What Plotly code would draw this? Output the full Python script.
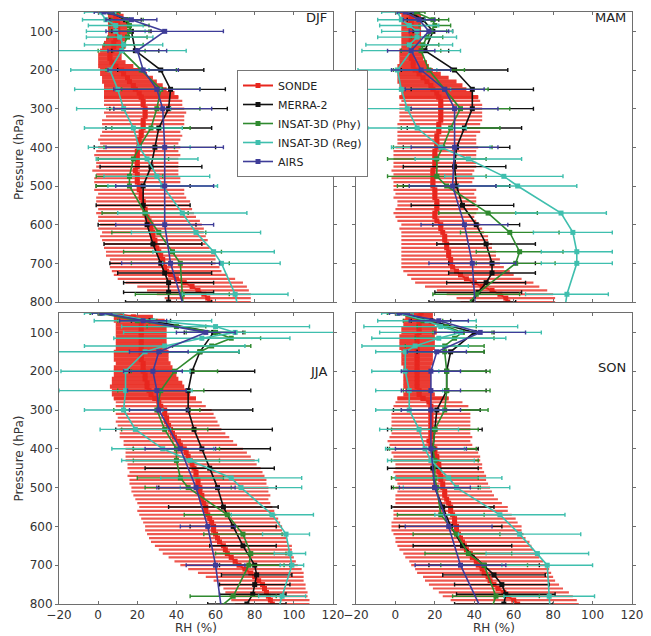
import plotly.graph_objects as go

# ---------------- data ----------------
SEASONS = ["DJF", "MAM", "JJA", "SON"]

P_SONDE = [50, 60, 70, 80, 90, 100, 110, 120, 130, 140,
           150, 160, 170, 180, 190, 200, 210, 220, 230, 240,
           250, 260, 270, 280, 290, 300, 310, 320, 330, 340,
           350, 360, 370, 380, 390, 400, 410, 420, 430, 440,
           450, 460, 470, 480, 490, 500, 510, 520, 530, 540,
           550, 560, 570, 580, 590, 600, 610, 620, 630, 640,
           650, 660, 670, 680, 690, 700, 710, 720, 730, 740,
           750, 760, 770, 780, 790, 800]

SONDE_MEAN = {
    "DJF": [8, 9, 9, 10, 10, 10, 10, 9, 8, 8,
            7, 6, 6, 7, 9, 12, 13, 15, 16, 18,
            19, 21, 22, 23, 23, 24, 24, 24, 23, 23,
            23, 22, 22, 21, 21, 21, 20, 20, 20, 20,
            20, 19, 20, 20, 20, 21, 21, 22, 22, 23,
            23, 24, 24, 25, 26, 27, 27, 28, 28, 29,
            29, 30, 31, 32, 33, 33, 34, 35, 37, 40,
            44, 48, 51, 54, 56, 57],
    "MAM": [7, 8, 8, 8, 8, 8, 8, 8, 8, 8,
            8, 8, 8, 9, 9, 10, 12, 14, 16, 18,
            19, 21, 22, 23, 23, 23, 23, 23, 23, 22,
            22, 22, 21, 21, 21, 21, 20, 20, 20, 20,
            20, 19, 19, 19, 19, 19, 20, 20, 20, 21,
            21, 21, 20, 20, 21, 23, 23, 24, 25, 25,
            26, 26, 27, 27, 28, 28, 29, 31, 33, 36,
            40, 44, 49, 53, 56, 57],
    "JJA": [8, 18, 21, 22, 22, 22, 22, 22, 22, 22,
            22, 22, 22, 23, 23, 23, 24, 24, 25, 25,
            26, 27, 29, 31, 32, 34, 34, 35, 35, 36,
            37, 38, 39, 41, 42, 44, 45, 46, 47, 48,
            49, 50, 50, 51, 51, 52, 52, 53, 53, 54,
            55, 55, 56, 57, 58, 59, 59, 60, 61, 62,
            64, 65, 66, 68, 70, 72, 75, 78, 80, 82,
            84, 85, 86, 87, 88, 89],
    "SON": [13, 12, 12, 12, 12, 12, 11, 11, 11, 11,
            11, 11, 11, 11, 11, 11, 11, 11, 11, 11,
            12, 12, 14, 17, 18, 18, 18, 18, 18, 18,
            18, 18, 18, 17, 18, 20, 20, 21, 21, 22,
            22, 22, 23, 23, 24, 24, 25, 25, 26, 27,
            28, 28, 29, 30, 30, 31, 31, 32, 33, 34,
            35, 36, 38, 39, 41, 42, 44, 45, 47, 48,
            50, 52, 55, 57, 60, 62],
}

SONDE_SD = {
    "DJF": [3, 4, 4, 5, 5, 5, 5, 5, 5, 6,
            6, 6, 6, 7, 9, 11, 12, 13, 14, 15,
            16, 18, 19, 20, 20, 20, 21, 20, 21, 21,
            21, 20, 21, 21, 20, 21, 21, 22, 21, 21,
            21, 22, 21, 22, 22, 22, 23, 22, 23, 24,
            24, 24, 25, 25, 26, 26, 27, 26, 27, 27,
            26, 27, 27, 28, 27, 27, 28, 28, 29, 30,
            30, 28, 26, 24, 22, 21],
    "MAM": [5, 5, 5, 5, 5, 5, 5, 5, 5, 5,
            6, 6, 6, 7, 8, 9, 11, 13, 15, 16,
            17, 18, 20, 20, 21, 21, 21, 21, 21, 21,
            21, 21, 20, 20, 20, 21, 21, 21, 21, 21,
            21, 21, 20, 21, 20, 20, 21, 20, 21, 20,
            20, 21, 21, 20, 20, 20, 21, 21, 22, 22,
            23, 23, 24, 24, 25, 25, 26, 27, 27, 28,
            30, 29, 28, 27, 25, 24],
    "JJA": [4, 10, 13, 13, 13, 13, 13, 13, 13, 13,
            14, 14, 14, 14, 15, 15, 16, 17, 18, 19,
            19, 20, 21, 22, 23, 24, 25, 25, 26, 26,
            26, 27, 28, 28, 29, 30, 31, 32, 33, 33,
            34, 34, 35, 35, 35, 35, 35, 35, 34, 34,
            34, 35, 35, 35, 35, 35, 35, 35, 35, 35,
            35, 34, 33, 32, 31, 30, 29, 27, 25, 23,
            22, 21, 21, 20, 20, 19],
    "SON": [6, 7, 8, 8, 9, 9, 9, 9, 9, 9,
            8, 8, 8, 8, 7, 7, 7, 7, 7, 7,
            7, 8, 13, 17, 19, 20, 20, 20, 20, 20,
            20, 20, 21, 21, 21, 22, 22, 22, 22, 22,
            22, 23, 23, 23, 23, 24, 24, 25, 26, 27,
            29, 29, 30, 31, 32, 33, 33, 33, 33, 34,
            34, 34, 34, 34, 34, 34, 34, 34, 33, 33,
            33, 33, 33, 33, 32, 31],
}

P_MERRA = [50, 70, 100, 150, 200, 250, 300, 350, 400, 450,
           500, 550, 600, 650, 700, 725, 750, 775, 800]
MERRA_MEAN = {
    "DJF": [6, 14, 17, 19, 32, 37, 36, 31, 29, 27, 23, 23, 25, 28, 32, 34, 36, 36, 36],
    "MAM": [7, 14, 19, 15, 30, 39, 39, 35, 31, 30, 31, 34, 41, 46, 49, 49, 46, 42, 39],
    "JJA": [1, 27, 59, 52, 48, 46, 46, 49, 53, 57, 61, 64, 69, 74, 80, 81, 80, 79, 76],
    "SON": [1, 18, 40, 28, 26, 26, 21, 20, 19, 19, 20, 24, 28, 34, 45, 50, 54, 56, 55],
}
MERRA_SD = {
    "DJF": [5, 8, 10, 12, 22, 28, 30, 27, 31, 26, 24, 24, 25, 25, 26, 24, 23, 23, 22],
    "MAM": [5, 8, 10, 12, 27, 31, 31, 29, 27, 26, 27, 26, 22, 25, 22, 22, 20, 22, 22],
    "JJA": [5, 10, 15, 20, 32, 32, 33, 40, 35, 33, 30, 28, 22, 17, 18, 18, 18, 17, 20],
    "SON": [5, 10, 10, 17, 20, 20, 22, 24, 23, 23, 22, 26, 26, 25, 28, 26, 24, 25, 25],
}

P_INSAT = [50, 70, 85, 100, 115, 135, 150, 200, 250, 300, 350,
           400, 430, 475, 500, 570, 620, 670, 700, 780, 850]
PHY_MEAN = {
    "DJF": [6, 15, 16, 16, 15, 13, 12, 22, 32, 30, 27, 21, 18, 16, 16, 24, 31, 38, 42, 43, 44],
    "MAM": [10, 19, 20, 18, 16, 14, 13, 17, 25, 33, 28, 24, 21, 21, 26, 47, 58, 63, 61, 41, 30],
    "JJA": [1, 20, 40, 60, 68, 58, 52, 39, 32, 30, 34, 40, 40, 42, 46, 66, 74, 78, 77, 69, 52],
    "SON": [1, 14, 26, 34, 30, 25, 25, 26, 26, 25, 20, 19, 20, 20, 21, 23, 31, 37, 45, 51, 46],
}
PHY_SD = {
    "DJF": [5, 8, 10, 10, 10, 10, 12, 18, 20, 22, 20, 18, 18, 17, 17, 22, 24, 25, 25, 24, 24],
    "MAM": [5, 8, 8, 8, 8, 8, 10, 18, 22, 25, 25, 25, 25, 25, 25, 25, 25, 22, 20, 22, 22],
    "JJA": [5, 10, 15, 15, 15, 20, 20, 22, 22, 22, 22, 22, 22, 22, 22, 22, 20, 18, 18, 22, 22],
    "SON": [5, 10, 15, 15, 20, 20, 20, 22, 22, 22, 22, 22, 22, 22, 22, 22, 22, 22, 22, 22, 22],
}
REG_MEAN = {
    "DJF": [1, 4, 9, 9, 11, 13, 12, 6, 10, 13, 18, 21, 25, 30, 33, 43, 50, 59, 63, 70, 73],
    "MAM": [1, 3, 7, 11, 11, 7, 8, 1, 3, 6, 11, 23, 37, 55, 62, 84, 90, 92, 92, 87, 85],
    "JJA": [3, 28, 60, 70, 53, 34, 24, 14, 14, 13, 19, 33, 47, 68, 73, 89, 96, 98, 99, 94, 90],
    "SON": [1, 16, 23, 33, 22, 10, 5, 5, 7, 7, 12, 15, 18, 27, 31, 53, 63, 72, 77, 78, 79],
}
REG_SD = {
    "DJF": [8, 12, 14, 15, 17, 20, 33, 20, 22, 24, 25, 26, 26, 27, 28, 33, 33, 31, 30, 27, 27],
    "MAM": [8, 12, 15, 18, 20, 22, 25, 20, 25, 25, 25, 25, 27, 30, 30, 23, 20, 18, 18, 21, 21],
    "JJA": [10, 30, 48, 57, 45, 41, 48, 33, 34, 20, 18, 26, 35, 36, 31, 21, 12, 8, 6, 12, 12],
    "SON": [8, 25, 39, 41, 34, 27, 15, 17, 17, 17, 20, 20, 22, 27, 27, 33, 31, 26, 23, 23, 23],
}

P_AIRS = [50, 70, 100, 150, 200, 250, 300, 400, 500, 600, 700, 850]
AIRS_MEAN = {
    "DJF": [3, 17, 34, 20, 23, 30, 33, 34, 34, 34, 37, 46],
    "MAM": [5, 12, 17, 8, 13, 25, 30, 30, 29, 35, 39, 41],
    "JJA": [2, 23, 55, 31, 28, 30, 31, 42, 50, 56, 60, 64],
    "SON": [2, 22, 43, 21, 18, 18, 18, 18, 20, 27, 33, 47],
}
AIRS_SD = {
    "DJF": [5, 13, 30, 15, 18, 22, 25, 30, 25, 25, 25, 25],
    "MAM": [4, 8, 10, 12, 15, 20, 22, 22, 22, 22, 22, 22],
    "JJA": [5, 12, 15, 15, 15, 15, 15, 18, 20, 14, 15, 15],
    "SON": [5, 15, 23, 15, 15, 15, 15, 18, 18, 22, 23, 23],
}

X_TICKS = [-20, 0, 20, 40, 60, 80, 100, 120]
Y_TICKS = [100, 200, 300, 400, 500, 600, 700, 800]

# ---------------- styling ----------------
FONT = "DejaVu Sans"
RED = "#e8261e"
COLORS = {
    "MERRA-2": "#111111",
    "INSAT-3D (Phy)": "#2f8a2f",
    "INSAT-3D (Reg)": "#3fbfae",
    "AIRS": "#3e3c98",
}
AXES = {"DJF": ("x", "y"), "MAM": ("x2", "y2"), "JJA": ("x3", "y3"), "SON": ("x4", "y4")}
SPLIT = 270  # sonde levels above this are denser in the original

fig = go.Figure()

for k, s in enumerate(SEASONS):
    xa, ya = AXES[s]
    first = (k == 0)
    up = [i for i, p in enumerate(P_SONDE) if p <= SPLIT]
    lo = [i for i, p in enumerate(P_SONDE) if p >= SPLIT]
    for idx, thick, alpha, show in ((lo, 2.2, 0.8, first), (up, 4.2, 0.93, False)):
        fig.add_trace(go.Scatter(
            x=[SONDE_MEAN[s][i] for i in idx], y=[P_SONDE[i] for i in idx],
            mode="lines+markers", name="SONDE", legendgroup="SONDE", showlegend=show,
            line=dict(color=RED, width=2),
            marker=dict(color=RED, size=5, symbol="square"),
            error_x=dict(type="data", array=[SONDE_SD[s][i] for i in idx], visible=True,
                         color=f"rgba(234,45,35,{alpha})", thickness=thick, width=0),
            xaxis=xa, yaxis=ya,
        ))
    series = [
        ("MERRA-2", P_MERRA, MERRA_MEAN[s], MERRA_SD[s]),
        ("INSAT-3D (Phy)", P_INSAT, PHY_MEAN[s], PHY_SD[s]),
        ("INSAT-3D (Reg)", P_INSAT, REG_MEAN[s], REG_SD[s]),
        ("AIRS", P_AIRS, AIRS_MEAN[s], AIRS_SD[s]),
    ]
    for name, pp, mm, sd in series:
        c = COLORS[name]
        fig.add_trace(go.Scatter(
            x=mm, y=pp, mode="lines+markers", name=name, legendgroup=name,
            showlegend=first,
            line=dict(color=c, width=1.6),
            marker=dict(color=c, size=5, symbol="square"),
            error_x=dict(type="data", array=sd, visible=True, color=c,
                         thickness=1.4, width=2),
            xaxis=xa, yaxis=ya,
        ))

# ---------------- layout ----------------
W, H = 651, 636
L, R, T, B = 59, 19, 12, 32
pw, ph = W - L - R, H - T - B
def dx(a, b):
    return [(a - L) / pw, (b - L) / pw]
def dy(top, bot):
    return [1 - (bot - T) / ph, 1 - (top - T) / ph]
def py(v):
    return 1 - (v - T) / ph
def px(v):
    return (v - L) / pw

xdom = {"DJF": dx(59, 333), "MAM": dx(356, 632), "JJA": dx(59, 333), "SON": dx(356, 632)}
ydom = {"DJF": dy(12, 302), "MAM": dy(12, 302), "JJA": dy(313, 604), "SON": dy(313, 604)}

axis_common = dict(showline=True, linecolor="#6e6e6e", linewidth=1, mirror="allticks",
                   ticklen=3, tickcolor="#6e6e6e",
                   showgrid=False, zeroline=False, automargin=False,
                   tickfont=dict(family=FONT, size=12, color="#333333"))

layout = dict(
    width=W, height=H, margin=dict(l=L, r=R, t=T, b=B, autoexpand=False),
    paper_bgcolor="white", plot_bgcolor="white",
    font=dict(family=FONT, size=12, color="#333333"),
    legend=dict(x=px(237), y=py(70), xanchor="left", yanchor="top",
                bgcolor="white", bordercolor="#777777", borderwidth=1,
                font=dict(family=FONT, size=11, color="#222222"),
                tracegroupgap=0, itemwidth=30),
    showlegend=True,
)

for s in SEASONS:
    xa, ya = AXES[s]
    xk = "xaxis" + xa[1:]
    yk = "yaxis" + ya[1:]
    bottom = s in ("JJA", "SON")
    left = s in ("DJF", "JJA")
    layout[xk] = dict(axis_common, domain=xdom[s], anchor=ya, range=[-20, 120],
                      ticks="inside", tickvals=X_TICKS, showticklabels=bottom)
    layout[yk] = dict(axis_common, domain=ydom[s], anchor=xa, range=[800, 50],
                      ticks="outside", tickvals=Y_TICKS, showticklabels=left,
                      title=dict(text="Pressure (hPa)" if left else "", standoff=3,
                                 font=dict(family=FONT, size=12, color="#333333")))

fig.update_layout(**layout)

# x-axis titles
for cx in (196, 494):
    fig.add_annotation(text="RH (%)", xref="paper", yref="paper", x=px(cx), y=py(628),
                       xanchor="center", yanchor="middle", showarrow=False,
                       font=dict(family=FONT, size=12, color="#333333"))

labels = {"DJF": 65, "MAM": 65, "JJA": 200, "SON": 190}
for s in SEASONS:
    xa, ya = AXES[s]
    fig.add_annotation(text=s, xref=xa + " domain", yref=ya, x=0.985, y=labels[s],
                       xanchor="right", yanchor="middle", showarrow=False,
                       font=dict(family=FONT, size=13, color="#222222"))

fig.write_html("out.html", config={"displayModeBar": False},
               post_script="document.body.style.margin='0px';")
